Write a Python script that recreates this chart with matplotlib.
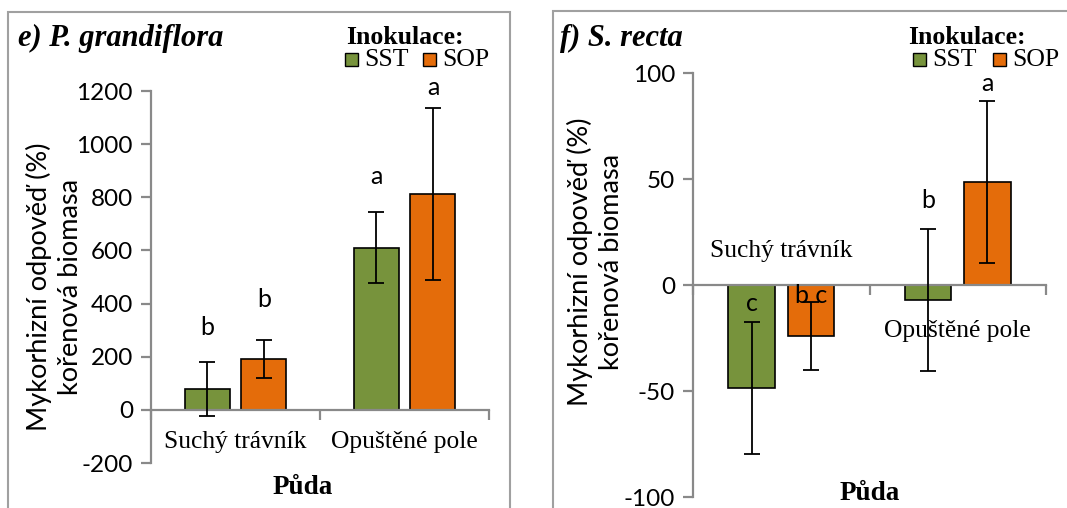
import matplotlib.pyplot as plt
from matplotlib.patches import Rectangle
import numpy as np

# data
soils = ['Suchý trávník', 'Opuštěné pole']
series = ['SST', 'SOP']
colors = ['#77933C', '#E46C0A']

# e) P. grandiflora
pg_sst = [78, 611]
pg_sst_err = [102, 133]
pg_sop = [191, 813]
pg_sop_err = [71, 323]
pg_letters_sst = ['b', 'a']
pg_letters_sop = ['b', 'a']
pg_letters_sst_y = [311, 877]
pg_letters_sop_y = [416, 1215]

# f) S. recta
sr_sst = [-48.5, -7]
sr_sst_err = [31, 33.5]
sr_sop = [-24, 48.6]
sr_sop_err = [16, 38]
sr_letters_sst = ['c', 'b']
sr_letters_sop = ['b c', 'a']
sr_letters_sst_y = [-8.5, 40]
sr_letters_sop_y = [-5, 95]

SANS = ['Lato', 'DejaVu Sans']
SERIF = ['Liberation Serif', 'DejaVu Serif']
BAR_W = 0.266
OFF = 0.1685
SPINE = '#898989'

fig = plt.figure(figsize=(10.67, 5.08), dpi=100)


def panel(rect, sst, sst_err, sop, sop_err, ylim, yticks, let_sst, let_sst_y,
          let_sop, let_sop_y, cat_y):
    ax = fig.add_axes(rect)
    x = np.arange(len(soils))
    for vals, errs, col, off in [(sst, sst_err, colors[0], -OFF),
                                 (sop, sop_err, colors[1], OFF)]:
        ax.bar(x + off, vals, BAR_W, color=col, edgecolor='black', linewidth=1.2,
               zorder=2)
        ax.errorbar(x + off, vals, yerr=errs, fmt='none', ecolor='black',
                    elinewidth=1.3, capsize=6, capthick=1.3, zorder=4)
    for i in range(len(soils)):
        ax.text(x[i] - OFF, let_sst_y[i], let_sst[i], ha='center', va='center',
                fontsize=18, family=SANS, zorder=5)
        ax.text(x[i] + OFF, let_sop_y[i], let_sop[i], ha='center', va='center',
                fontsize=18, family=SANS, zorder=5)
        ax.text(x[i], cat_y[i], soils[i], ha='center', va='center',
                fontsize=18.4, family=SERIF)
    ax.set_xlim(-0.5, 1.5)
    ax.set_ylim(*ylim)
    ax.set_yticks(yticks)
    ax.set_yticklabels([str(t) for t in yticks], family=SANS, fontsize=17.5)
    ax.set_xticks([-0.5, 0.5, 1.5])
    ax.set_xticklabels([])
    ax.spines['top'].set_visible(False)
    ax.spines['right'].set_visible(False)
    ax.spines['bottom'].set_position(('data', 0))
    for s in ['left', 'bottom']:
        ax.spines[s].set_color(SPINE)
        ax.spines[s].set_linewidth(1.6)
    ax.spines['bottom'].set_zorder(3)
    ax.tick_params(axis='both', color=SPINE, width=1.6, length=7, direction='out')
    ax.tick_params(axis='y', pad=6)
    ax.patch.set_alpha(0)
    return ax


panel([151 / 1067, 1 - 463 / 508, 338 / 1067, 372 / 508],
      pg_sst, pg_sst_err, pg_sop, pg_sop_err, (-200, 1200),
      list(range(-200, 1201, 200)), pg_letters_sst, pg_letters_sst_y,
      pg_letters_sop, pg_letters_sop_y, [-120, -120])

panel([693 / 1067, 1 - 497 / 508, 353 / 1067, 424 / 508],
      sr_sst, sr_sst_err, sr_sop, sr_sop_err, (-100, 100),
      [-100, -50, 0, 50, 100], sr_letters_sst, sr_letters_sst_y,
      sr_letters_sop, sr_letters_sop_y, [16, -21.7])

# frames around each panel
for x0, y0, x1, y1 in [(8, 12, 510, 540), (553, 11, 1100, 540)]:
    fig.patches.append(Rectangle((x0 / 1067, 1 - y1 / 508), (x1 - x0) / 1067,
                                 (y1 - y0) / 508, transform=fig.transFigure,
                                 fill=False, edgecolor='#a0a0a0', linewidth=1.5))


def px(x, y):
    return x / 1067, 1 - y / 508


# titles
fig.text(*px(18, 38), 'e) P. grandiflora', family=SERIF, fontsize=22,
         fontweight='bold', fontstyle='italic', ha='left', va='center')
fig.text(*px(560, 38), 'f) S. recta', family=SERIF, fontsize=22,
         fontweight='bold', fontstyle='italic', ha='left', va='center')

# y labels
fig.text(*px(54, 287), 'Mykorhizní odpověď (%)\nkořenová biomasa', family=SANS,
         fontsize=19.5, rotation=90, ha='center', va='center', linespacing=1.3)
fig.text(*px(595, 262), 'Mykorhizní odpověď (%)\nkořenová biomasa', family=SANS,
         fontsize=19.5, rotation=90, ha='center', va='center', linespacing=1.3)

# x labels
fig.text(*px(303, 488), 'Půda', family=SERIF, fontsize=19.5, fontweight='bold',
         ha='center', va='center')
fig.text(*px(870, 493), 'Půda', family=SERIF, fontsize=19.5, fontweight='bold',
         ha='center', va='center')

# legends
for lx, ly, sx1, sx2 in [(405, 37, 345, 423), (967, 37, 913, 993)]:
    fig.text(*px(lx, ly), 'Inokulace:', family=SERIF, fontsize=18.5,
             fontweight='bold', ha='center', va='center')
    for sx, lab, col in [(sx1, series[0], colors[0]), (sx2, series[1], colors[1])]:
        fig.patches.append(Rectangle(px(sx, ly + 29), 13 / 1067, 13 / 508,
                                     transform=fig.transFigure, facecolor=col,
                                     edgecolor='black', linewidth=1.0))
        fig.text(*px(sx + 19, ly + 23), lab, family=SERIF, fontsize=18.5,
                 ha='left', va='center')

fig.savefig('out.png', dpi=100)
